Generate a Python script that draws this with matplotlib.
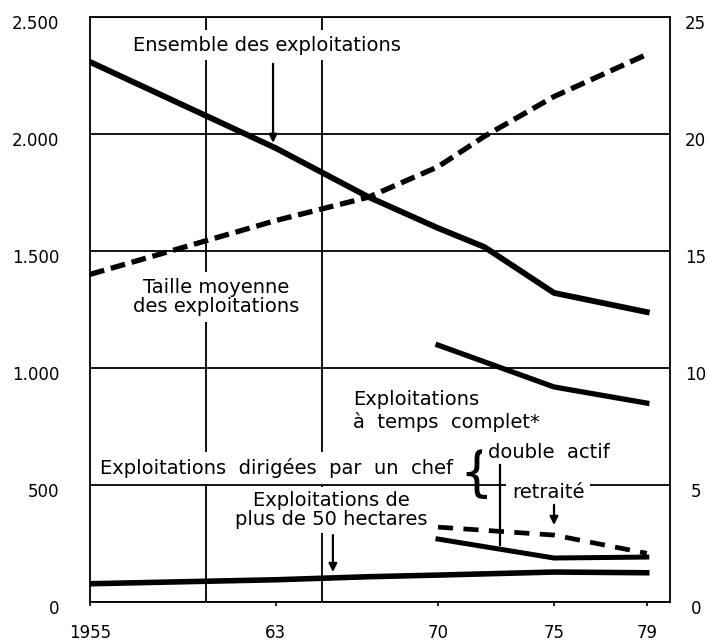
import matplotlib
matplotlib.use("Agg")
import matplotlib.pyplot as plt
from matplotlib.transforms import ScaledTranslation

# Données (milliers d'exploitations / hectares)
annees_ens = [1955, 1963, 1967, 1970, 1972, 1975, 1979]
ensemble = [2308, 1940, 1731, 1598, 1517, 1321, 1239]
taille_moyenne = [14.0, 16.3, 17.3, 18.6, 19.9, 21.6, 23.4]

annees_70 = [1970, 1975, 1979]
temps_complet = [1098, 919, 850]
double_actif = [269, 188, 192]
retraite = [320, 286, 208]

annees_50 = [1955, 1963, 1967, 1970, 1975, 1979]
plus_50ha = [78, 95, 108, 115, 128, 125]

annees_ticks = [1955, 1963, 1970, 1975, 1979]
etiquettes_x = ["1955", "63", "70", "75", "79"]
annees_grille = [1960, 1965, 1970, 1975]
valeurs_y = [0, 500, 1000, 1500, 2000, 2500]
etiquettes_y = ["0", "500", "1.000", "1.500", "2.000", "2.500"]
valeurs_ha = [0, 5, 10, 15, 20, 25]
etiquettes_ha = ["0", "5", "10", "15", "20", "25"]

plt.rcParams['font.family'] = ['DejaVu Sans']

fig = plt.figure(figsize=(7.07, 6.43), dpi=100)
ax = fig.add_axes([90 / 707, 41 / 643, 580 / 707, 585 / 643])
ax.set_xlim(1955, 1980)
ax.set_ylim(0, 2500)

ax.set_xticks(annees_ticks)
ax.set_xticklabels(etiquettes_x)
ax.set_xticks(annees_grille, minor=True)
ax.set_yticks(valeurs_y)
ax.set_yticklabels(etiquettes_y)
ax.grid(True, which='minor', axis='x', color='k', lw=1.3)
ax.grid(True, which='major', axis='y', color='k', lw=1.3)
ax.set_axisbelow(True)
ax.tick_params(axis='x', which='minor', length=0)
ax.tick_params(axis='x', which='major', length=3, width=1.2, pad=13, labelsize=12)
ax.tick_params(axis='y', length=0, pad=22, labelsize=12)
for s in ax.spines.values():
    s.set_linewidth(1.3)

ax2 = ax.twinx()
ax2.set_ylim(0, 25)
ax2.set_yticks(valeurs_ha)
ax2.set_yticklabels(etiquettes_ha, ha='center')
ax2.tick_params(axis='y', length=0, pad=18.5, labelsize=12)
for s in ax2.spines.values():
    s.set_visible(False)

# décalage vertical des étiquettes comme sur l'original
decal = ScaledTranslation(0, -0.05, fig.dpi_scale_trans)
for lab in ax.get_yticklabels() + ax2.get_yticklabels():
    lab.set_transform(lab.get_transform() + decal)

# courbes
ax.plot(annees_ens, ensemble, color='k', lw=4.2, zorder=3)
ax2.plot(annees_ens, taille_moyenne, color='k', lw=3.8, dashes=(2.8, 1.3), zorder=3)
ax.plot(annees_70, temps_complet, color='k', lw=3.8, zorder=3)
ax.plot(annees_70, double_actif, color='k', lw=3.6, zorder=3)
ax.plot(annees_70, retraite, color='k', lw=3.4, dashes=(3.2, 2.2), zorder=3)
ax.plot(annees_50, plus_50ha, color='k', lw=4.0, zorder=3)

# textes
boite = dict(facecolor='white', edgecolor='none', pad=4)
fleche = dict(arrowstyle='-|>', color='k', lw=1.6, mutation_scale=12, shrinkA=0, shrinkB=0)

ax.text(1962.63, 2380, "Ensemble des exploitations", ha='center', va='center',
        fontsize=14, bbox=boite, zorder=2)
ax.annotate('', xy=(1962.89, 1962), xytext=(1962.89, 2300), arrowprops=fleche, zorder=3)

ax.text(1960.43, 1303, "Taille moyenne\ndes exploitations", ha='center', va='center',
        fontsize=14, linespacing=1.05, bbox=boite, zorder=2)

ax.text(1966.34, 816, "Exploitations\nà  temps  complet*", ha='left', va='center',
        fontsize=14, bbox=boite, zorder=2)

ax.text(1955.43, 573, "Exploitations  dirigées  par  un  chef", ha='left', va='center',
        fontsize=14, bbox=boite, zorder=2)
ax.text(1971.64, 543, "{", ha='center', va='center', fontsize=38, zorder=2)
ax.text(1972.16, 641, "double  actif", ha='left', va='center', fontsize=14,
        bbox=boite, zorder=2)
ax.text(1973.19, 466, "retraité", ha='left', va='center', fontsize=14,
        bbox=boite, zorder=2)
ax.plot([1972.67, 1972.67], [585, 244], color='k', lw=1.6, zorder=3)
ax.annotate('', xy=(1975, 329), xytext=(1975, 415), arrowprops=fleche, zorder=3)

ax.text(1965.4, 393, "Exploitations de\nplus de 50 hectares", ha='center', va='center',
        fontsize=14, linespacing=1.05, bbox=dict(facecolor='white', edgecolor='none', pad=2.5),
        zorder=2)
ax.annotate('', xy=(1965.47, 128), xytext=(1965.47, 286), arrowprops=fleche, zorder=3)

fig.savefig("out.png", dpi=100)
